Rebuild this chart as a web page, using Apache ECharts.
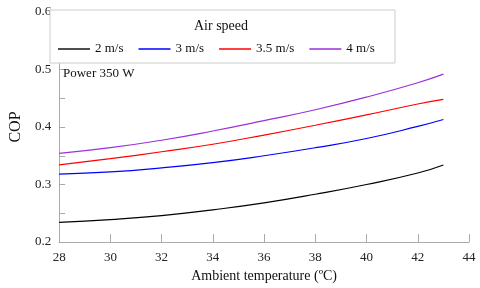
<!DOCTYPE html>
<html><head><meta charset="utf-8">
<script src="https://cdn.jsdelivr.net/npm/echarts@6/dist/echarts.min.js"></script>
<style>html,body{margin:0;padding:0;background:#fff}#c{width:480px;height:288px}</style>
</head><body><div id="c"></div>
<script>
var temps = [28, 30, 32, 34, 36, 38, 40, 42, 43];
var cop2 = [0.234, 0.239, 0.246, 0.256, 0.268, 0.283, 0.300, 0.320, 0.334];
var cop3 = [0.318, 0.322, 0.329, 0.338, 0.350, 0.364, 0.380, 0.401, 0.413];
var cop35 = [0.334, 0.345, 0.357, 0.370, 0.386, 0.403, 0.421, 0.440, 0.448];
var cop4 = [0.354, 0.364, 0.377, 0.393, 0.411, 0.430, 0.452, 0.477, 0.492];
var names = ['2 m/s', '3 m/s', '3.5 m/s', '4 m/s'];
var colors = ['#000000', '#0000ff', '#ff0000', '#9b30d9'];
var all = [cop2, cop3, cop35, cop4];
var font = 'Liberation Serif';
function pairs(v){ return temps.map(function(t,i){ return [t, v[i]]; }); }
var chart = echarts.init(document.getElementById('c'));
chart.setOption({
  animation: false,
  grid: {left: 50, right: 11, top: 12, bottom: 46},
  graphic: [
    {type: 'rect', shape: {x: 50, y: 10, width: 345, height: 53}, style: {fill: '#fff', stroke: '#cccccc', lineWidth: 1}, z: 10},
    {type: 'text', x: 221, y: 26, style: {text: 'Air speed', font: '14px "Liberation Serif"', fill: '#111', textAlign: 'center', textVerticalAlign: 'middle'}, z: 11},
    {type: 'text', x: 63, y: 74, style: {text: 'Power 350 W', font: '13px "Liberation Serif"', fill: '#111', textAlign: 'left', textVerticalAlign: 'middle'}, z: 11}
  ],
  legend: {
    left: 53, top: 37, itemWidth: 32, itemHeight: 1.4, itemGap: 15, z: 12, icon: 'rect',
    textStyle: {fontFamily: font, fontSize: 13, color: '#111', lineHeight: 14},
    data: names
  },
  xAxis: {
    type: 'value', min: 28, max: 44, interval: 2,
    name: 'Ambient temperature (ºC)', nameLocation: 'middle', nameGap: 25,
    nameTextStyle: {fontFamily: font, fontSize: 14, color: '#111'},
    axisLine: {lineStyle: {color: '#aaaaaa'}},
    axisTick: {inside: true, length: 8, lineStyle: {color: '#aaaaaa'}},
    axisLabel: {fontFamily: font, fontSize: 13, color: '#222', margin: 9},
    splitLine: {show: false}
  },
  yAxis: {
    type: 'value', min: 0.2, max: 0.6, interval: 0.05,
    name: 'COP', nameLocation: 'middle', nameGap: 33,
    nameTextStyle: {fontFamily: font, fontSize: 16, color: '#111'},
    axisLine: {show: true, lineStyle: {color: '#aaaaaa'}},
    axisTick: {show: true, inside: true, length: 6, lineStyle: {color: '#aaaaaa'}},
    axisLabel: {fontFamily: font, fontSize: 13, color: '#222', margin: 8,
      formatter: function(v){ var r = Math.round(v*100); return (r % 10 === 0) ? (r/100).toFixed(1) : ''; }},
    splitLine: {show: false}
  },
  series: all.map(function(v, i){
    return {type: 'line', name: names[i], data: pairs(v), smooth: true, symbol: 'none',
      lineStyle: {color: colors[i], width: 1.2}, itemStyle: {color: colors[i]}};
  })
});
</script></body></html>
